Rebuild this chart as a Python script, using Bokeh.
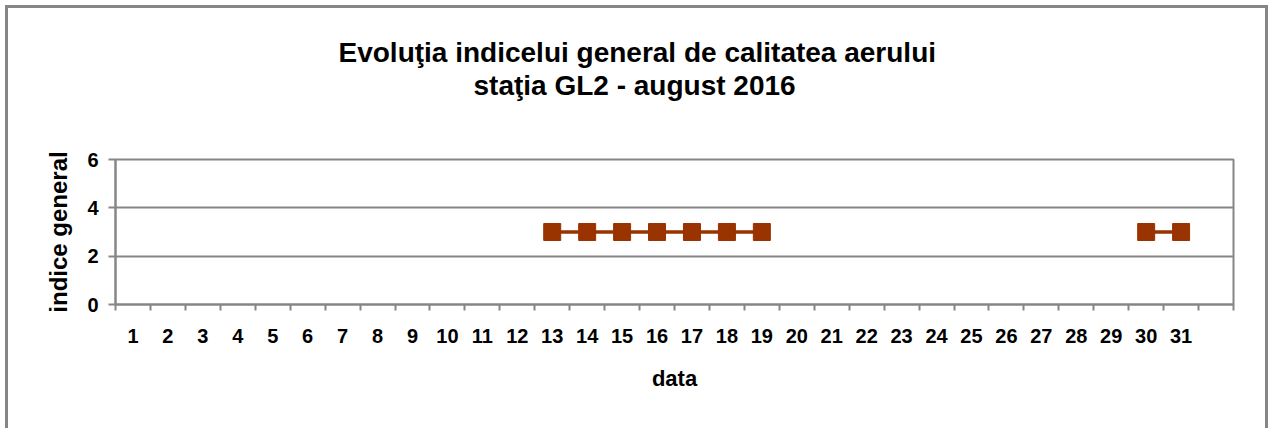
from bokeh.plotting import figure
from bokeh.models import Range1d, FixedTicker, Title
from bokeh.embed import file_html
from bokeh.resources import INLINE

# ---- data ----
days = list(range(1, 32))
day_labels = [str(d) for d in days]
n = None
index_values = [n, n, n, n, n, n, n, n, n, n, n, n,
                3, 3, 3, 3, 3, 3, 3,
                n, n, n, n, n, n, n, n, n, n,
                3, 3]
y_ticks = [0, 2, 4, 6]
title_lines = ["Evoluţia indicelui general de calitatea aerului",
               "staţia GL2 - august 2016"]
x_title = "data"
y_title = "indice general"

FONT = "Liberation Sans"
GRAY = "#868686"
RED = "#993300"

yvals = [float("nan") if v is None else v for v in index_values]
n_slots = len(days) + 1   # the category axis keeps one empty slot at the end

p = figure(width=1257, height=420, output_backend="svg", toolbar_location=None,
           x_range=Range1d(0.5, n_slots + 0.5),
           y_range=Range1d(y_ticks[0], y_ticks[-1]),
           min_border_left=107, min_border_top=151,
           min_border_right=38, min_border_bottom=127)
p.styles = {"box-sizing": "content-box", "margin-left": "5px", "margin-top": "5px",
            "border-left": f"3px solid {GRAY}", "border-top": f"3px solid {GRAY}",
            "border-right": f"3px solid {GRAY}"}
p.background_fill_color = "white"
p.border_fill_color = "white"
p.outline_line_color = GRAY
p.outline_line_width = 2

# title: two lines, centred over the whole chart.
# Items in the "above" panel stack outward from the plot frame:
# an empty spacer first, then line 2, then line 1.
p.title = None
p.add_layout(Title(text=" ", standoff=56, text_font_size="1px"), "above")
title_size = 28
for txt, off in [(title_lines[1], 358), (title_lines[0], 223)]:
    p.add_layout(Title(text=txt, align="left", offset=off, standoff=0,
                       text_font=FONT, text_font_style="bold",
                       text_font_size=f"{title_size}px", text_color="black"),
                 "above")

# x axis: labels at day centres, ticks at slot boundaries
boundaries = [k + 0.5 for k in range(n_slots + 1)]
p.xaxis.ticker = FixedTicker(ticks=days, minor_ticks=boundaries)
p.xaxis.major_label_overrides = {d: s for d, s in zip(days, day_labels)}
p.xaxis.major_tick_out = 0
p.xaxis.major_tick_in = 0
p.xaxis.minor_tick_out = 6
p.xaxis.minor_tick_in = 0
p.xaxis.minor_tick_line_color = GRAY
p.xaxis.minor_tick_line_width = 2
p.xaxis.major_label_standoff = 18
p.xaxis.axis_label = x_title
p.xaxis.axis_label_standoff = 20

p.yaxis.ticker = FixedTicker(ticks=y_ticks)
p.yaxis.major_tick_out = 7
p.yaxis.major_tick_in = 0
p.yaxis.minor_tick_line_color = None
p.yaxis.major_label_standoff = 10
p.yaxis.axis_label = y_title
p.yaxis.axis_label_standoff = 12

for ax in (p.xaxis, p.yaxis):
    ax.axis_line_color = GRAY
    ax.axis_line_width = 2
    ax.major_tick_line_color = GRAY
    ax.major_tick_line_width = 2
    ax.major_label_text_font = FONT
    ax.major_label_text_font_style = "bold"
    ax.major_label_text_color = "black"
    ax.axis_label_text_font = FONT
    ax.axis_label_text_font_style = "bold"
    ax.axis_label_text_color = "black"
p.xaxis.major_label_text_font_size = "20px"
p.yaxis.major_label_text_font_size = "20px"
p.xaxis.axis_label_text_font_size = "22px"
p.yaxis.axis_label_text_font_size = "24px"

p.xgrid.grid_line_color = None
p.ygrid.ticker = FixedTicker(ticks=y_ticks)
p.ygrid.grid_line_color = GRAY
p.ygrid.grid_line_width = 2

p.line(days, yvals, line_color=RED, line_width=3.5)
p.scatter(days, yvals, marker="square", size=17, fill_color=RED, line_color=RED)

open("out.html", "w").write(file_html(p, INLINE))
